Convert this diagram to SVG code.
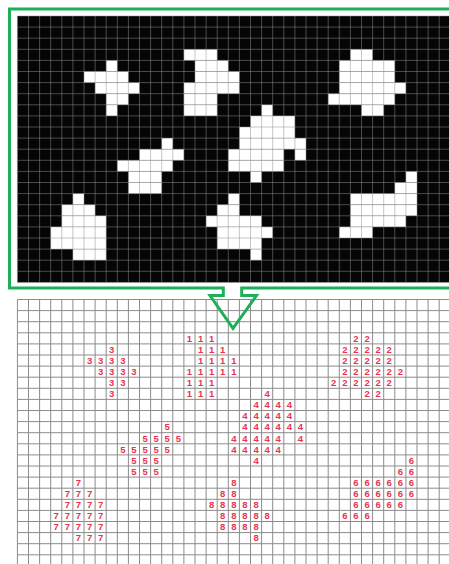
<svg xmlns="http://www.w3.org/2000/svg" width="449" height="564" viewBox="0 0 449 564">
<style>
.bg{fill:#ffffff}
.black{fill:#050505}
.cell{fill:#ffffff}
.tgrid{fill:none;stroke:#909090;stroke-opacity:0.5;stroke-width:1}
.bgrid{fill:none;stroke:#8c8c8c;stroke-width:1}
.frame{fill:none;stroke:#1daf5a;stroke-width:3;stroke-linejoin:miter}
.lbl{font-family:"Liberation Sans",Arial,sans-serif;font-size:9.5px;font-weight:bold;fill:#e8344f;text-anchor:middle}
</style>
<rect class="bg" x="0" y="0" width="449" height="564"/>

<g id="binary-image">
<rect class="black" x="17.4" y="16" width="440" height="266.4"/>
<g id="obj-1">
<rect class="cell" x="183.9" y="49.3" width="33.3" height="11.1"/>
<rect class="cell" x="195" y="60.4" width="33.3" height="11.1"/>
<rect class="cell" x="195" y="71.5" width="44.4" height="11.1"/>
<rect class="cell" x="183.9" y="82.6" width="55.5" height="11.1"/>
<rect class="cell" x="183.9" y="93.7" width="33.3" height="11.1"/>
<rect class="cell" x="183.9" y="104.8" width="33.3" height="11.1"/>
</g>
<g id="obj-2">
<rect class="cell" x="350.4" y="49.3" width="22.2" height="11.1"/>
<rect class="cell" x="339.3" y="60.4" width="55.5" height="11.1"/>
<rect class="cell" x="339.3" y="71.5" width="55.5" height="11.1"/>
<rect class="cell" x="339.3" y="82.6" width="66.6" height="11.1"/>
<rect class="cell" x="328.2" y="93.7" width="66.6" height="11.1"/>
<rect class="cell" x="361.5" y="104.8" width="22.2" height="11.1"/>
</g>
<g id="obj-3">
<rect class="cell" x="106.2" y="60.4" width="11.1" height="11.1"/>
<rect class="cell" x="84" y="71.5" width="44.4" height="11.1"/>
<rect class="cell" x="95.1" y="82.6" width="44.4" height="11.1"/>
<rect class="cell" x="106.2" y="93.7" width="22.2" height="11.1"/>
<rect class="cell" x="106.2" y="104.8" width="11.1" height="11.1"/>
</g>
<g id="obj-4">
<rect class="cell" x="261.6" y="104.8" width="11.1" height="11.1"/>
<rect class="cell" x="250.5" y="115.9" width="44.4" height="11.1"/>
<rect class="cell" x="239.4" y="127" width="55.5" height="11.1"/>
<rect class="cell" x="239.4" y="138.1" width="66.6" height="11.1"/>
<rect class="cell" x="228.3" y="149.2" width="55.5" height="11.1"/>
<rect class="cell" x="294.9" y="149.2" width="11.1" height="11.1"/>
<rect class="cell" x="228.3" y="160.3" width="55.5" height="11.1"/>
<rect class="cell" x="250.5" y="171.4" width="11.1" height="11.1"/>
</g>
<g id="obj-5">
<rect class="cell" x="161.7" y="138.1" width="11.1" height="11.1"/>
<rect class="cell" x="139.5" y="149.2" width="44.4" height="11.1"/>
<rect class="cell" x="117.3" y="160.3" width="55.5" height="11.1"/>
<rect class="cell" x="128.4" y="171.4" width="33.3" height="11.1"/>
<rect class="cell" x="128.4" y="182.5" width="33.3" height="11.1"/>
</g>
<g id="obj-6">
<rect class="cell" x="405.9" y="171.4" width="11.1" height="11.1"/>
<rect class="cell" x="394.8" y="182.5" width="22.2" height="11.1"/>
<rect class="cell" x="350.4" y="193.6" width="66.6" height="11.1"/>
<rect class="cell" x="350.4" y="204.7" width="66.6" height="11.1"/>
<rect class="cell" x="350.4" y="215.8" width="55.5" height="11.1"/>
<rect class="cell" x="339.3" y="226.9" width="33.3" height="11.1"/>
</g>
<g id="obj-7">
<rect class="cell" x="72.9" y="193.6" width="11.1" height="11.1"/>
<rect class="cell" x="61.8" y="204.7" width="33.3" height="11.1"/>
<rect class="cell" x="61.8" y="215.8" width="44.4" height="11.1"/>
<rect class="cell" x="50.7" y="226.9" width="55.5" height="11.1"/>
<rect class="cell" x="50.7" y="238" width="55.5" height="11.1"/>
<rect class="cell" x="72.9" y="249.1" width="33.3" height="11.1"/>
</g>
<g id="obj-8">
<rect class="cell" x="228.3" y="193.6" width="11.1" height="11.1"/>
<rect class="cell" x="217.2" y="204.7" width="22.2" height="11.1"/>
<rect class="cell" x="206.1" y="215.8" width="55.5" height="11.1"/>
<rect class="cell" x="217.2" y="226.9" width="55.5" height="11.1"/>
<rect class="cell" x="217.2" y="238" width="44.4" height="11.1"/>
<rect class="cell" x="250.5" y="249.1" width="11.1" height="11.1"/>
</g>
<path class="tgrid" d="M17.4 16V282.4M28.5 16V282.4M39.6 16V282.4M50.7 16V282.4M61.8 16V282.4M72.9 16V282.4M84 16V282.4M95.1 16V282.4M106.2 16V282.4M117.3 16V282.4M128.4 16V282.4M139.5 16V282.4M150.6 16V282.4M161.7 16V282.4M172.8 16V282.4M183.9 16V282.4M195 16V282.4M206.1 16V282.4M217.2 16V282.4M228.3 16V282.4M239.4 16V282.4M250.5 16V282.4M261.6 16V282.4M272.7 16V282.4M283.8 16V282.4M294.9 16V282.4M306 16V282.4M317.1 16V282.4M328.2 16V282.4M339.3 16V282.4M350.4 16V282.4M361.5 16V282.4M372.6 16V282.4M383.7 16V282.4M394.8 16V282.4M405.9 16V282.4M417 16V282.4M428.1 16V282.4M439.2 16V282.4
M17.4 16H460M17.4 27.1H460M17.4 38.2H460M17.4 49.3H460M17.4 60.4H460M17.4 71.5H460M17.4 82.6H460M17.4 93.7H460M17.4 104.8H460M17.4 115.9H460M17.4 127H460M17.4 138.1H460M17.4 149.2H460M17.4 160.3H460M17.4 171.4H460M17.4 182.5H460M17.4 193.6H460M17.4 204.7H460M17.4 215.8H460M17.4 226.9H460M17.4 238H460M17.4 249.1H460M17.4 260.2H460M17.4 271.3H460M17.4 282.4H460"/>
</g>

<g id="label-grid">
<path class="bgrid" d="M17.4 299.5V570M28.5 299.5V570M39.6 299.5V570M50.7 299.5V570M61.8 299.5V570M72.9 299.5V570M84 299.5V570M95.1 299.5V570M106.2 299.5V570M117.3 299.5V570M128.4 299.5V570M139.5 299.5V570M150.6 299.5V570M161.7 299.5V570M172.8 299.5V570M183.9 299.5V570M195 299.5V570M206.1 299.5V570M217.2 299.5V570M228.3 299.5V570M239.4 299.5V570M250.5 299.5V570M261.6 299.5V570M272.7 299.5V570M283.8 299.5V570M294.9 299.5V570M306 299.5V570M317.1 299.5V570M328.2 299.5V570M339.3 299.5V570M350.4 299.5V570M361.5 299.5V570M372.6 299.5V570M383.7 299.5V570M394.8 299.5V570M405.9 299.5V570M417 299.5V570M428.1 299.5V570M439.2 299.5V570
M17.4 299.5H460M17.4 310.6H460M17.4 321.7H460M17.4 332.8H460M17.4 343.9H460M17.4 355H460M17.4 366.1H460M17.4 377.2H460M17.4 388.3H460M17.4 399.4H460M17.4 410.5H460M17.4 421.6H460M17.4 432.7H460M17.4 443.8H460M17.4 454.9H460M17.4 466H460M17.4 477.1H460M17.4 488.2H460M17.4 499.3H460M17.4 510.4H460M17.4 521.5H460M17.4 532.6H460M17.4 543.7H460M17.4 554.8H460"/>
<g id="label-1">
<text class="lbl" x="189.45 200.55 211.65" y="341.6">111</text>
<text class="lbl" x="200.55 211.65 222.75" y="352.7">111</text>
<text class="lbl" x="200.55 211.65 222.75 233.85" y="363.8">1111</text>
<text class="lbl" x="189.45 200.55 211.65 222.75 233.85" y="374.9">11111</text>
<text class="lbl" x="189.45 200.55 211.65" y="386">111</text>
<text class="lbl" x="189.45 200.55 211.65" y="397.1">111</text>
</g>
<g id="label-2">
<text class="lbl" x="355.95 367.05" y="341.6">22</text>
<text class="lbl" x="344.85 355.95 367.05 378.15 389.25" y="352.7">22222</text>
<text class="lbl" x="344.85 355.95 367.05 378.15 389.25" y="363.8">22222</text>
<text class="lbl" x="344.85 355.95 367.05 378.15 389.25 400.35" y="374.9">222222</text>
<text class="lbl" x="333.75 344.85 355.95 367.05 378.15 389.25" y="386">222222</text>
<text class="lbl" x="367.05 378.15" y="397.1">22</text>
</g>
<g id="label-3">
<text class="lbl" x="111.75" y="352.7">3</text>
<text class="lbl" x="89.55 100.65 111.75 122.85" y="363.8">3333</text>
<text class="lbl" x="100.65 111.75 122.85 133.95" y="374.9">3333</text>
<text class="lbl" x="111.75 122.85" y="386">33</text>
<text class="lbl" x="111.75" y="397.1">3</text>
</g>
<g id="label-4">
<text class="lbl" x="267.15" y="397.1">4</text>
<text class="lbl" x="256.05 267.15 278.25 289.35" y="408.2">4444</text>
<text class="lbl" x="244.95 256.05 267.15 278.25 289.35" y="419.3">44444</text>
<text class="lbl" x="244.95 256.05 267.15 278.25 289.35 300.45" y="430.4">444444</text>
<text class="lbl" x="233.85 244.95 256.05 267.15 278.25 300.45" y="441.5">444444</text>
<text class="lbl" x="233.85 244.95 256.05 267.15 278.25" y="452.6">44444</text>
<text class="lbl" x="256.05" y="463.7">4</text>
</g>
<g id="label-5">
<text class="lbl" x="167.25" y="430.4">5</text>
<text class="lbl" x="145.05 156.15 167.25 178.35" y="441.5">5555</text>
<text class="lbl" x="122.85 133.95 145.05 156.15 167.25" y="452.6">55555</text>
<text class="lbl" x="133.95 145.05 156.15" y="463.7">555</text>
<text class="lbl" x="133.95 145.05 156.15" y="474.8">555</text>
</g>
<g id="label-6">
<text class="lbl" x="411.45" y="463.7">6</text>
<text class="lbl" x="400.35 411.45" y="474.8">66</text>
<text class="lbl" x="355.95 367.05 378.15 389.25 400.35 411.45" y="485.9">666666</text>
<text class="lbl" x="355.95 367.05 378.15 389.25 400.35 411.45" y="497">666666</text>
<text class="lbl" x="355.95 367.05 378.15 389.25 400.35" y="508.1">66666</text>
<text class="lbl" x="344.85 355.95 367.05" y="519.2">666</text>
</g>
<g id="label-7">
<text class="lbl" x="78.45" y="485.9">7</text>
<text class="lbl" x="67.35 78.45 89.55" y="497">777</text>
<text class="lbl" x="67.35 78.45 89.55 100.65" y="508.1">7777</text>
<text class="lbl" x="56.25 67.35 78.45 89.55 100.65" y="519.2">77777</text>
<text class="lbl" x="56.25 67.35 78.45 89.55 100.65" y="530.3">77777</text>
<text class="lbl" x="78.45 89.55 100.65" y="541.4">777</text>
</g>
<g id="label-8">
<text class="lbl" x="233.85" y="485.9">8</text>
<text class="lbl" x="222.75 233.85" y="497">88</text>
<text class="lbl" x="211.65 222.75 233.85 244.95 256.05" y="508.1">88888</text>
<text class="lbl" x="222.75 233.85 244.95 256.05 267.15" y="519.2">88888</text>
<text class="lbl" x="222.75 233.85 244.95 256.05" y="530.3">8888</text>
<text class="lbl" x="256.05" y="541.4">8</text>
</g>
</g>

<g id="connectors">
<path class="frame" d="M455 9H9.5V288H223.3V295.5H210L233 328.3L256.5 295.5H241.7V288H455"/>
</g>
</svg>
